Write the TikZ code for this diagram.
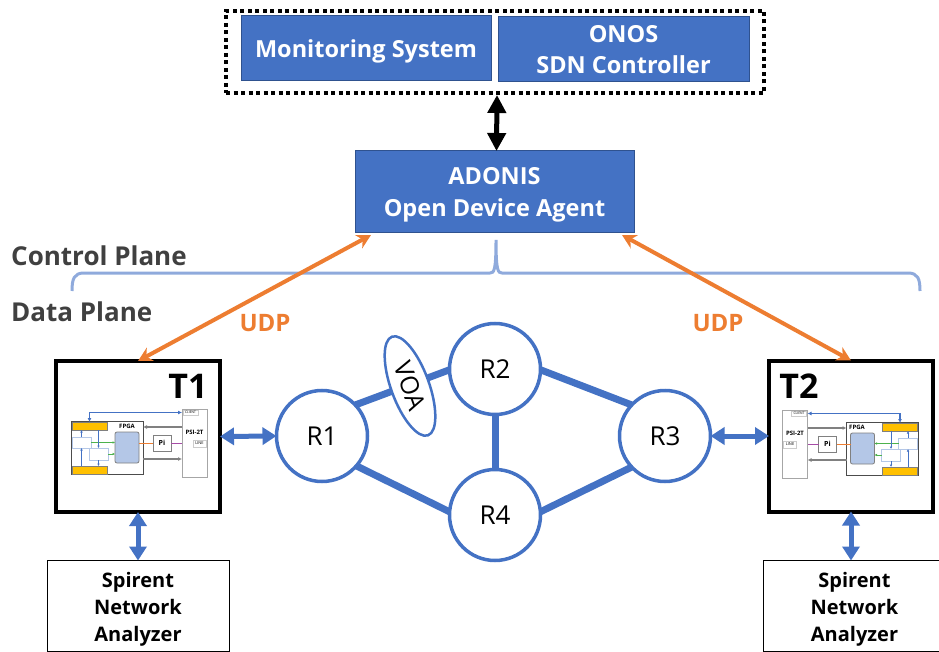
\documentclass[tikz,border=0pt]{standalone}
\usepackage{fontspec}
\usepackage{tikz}
\usetikzlibrary{arrows.meta,shapes.geometric}
\setmainfont{Open Sans}
\definecolor{boxblue}{HTML}{4472C4}
\definecolor{boxedge}{HTML}{2F528F}
\definecolor{braceblue}{HTML}{8FAADC}
\definecolor{udporange}{HTML}{ED7D31}
\definecolor{coreblue}{HTML}{B4C7E7}
\definecolor{portyellow}{HTML}{FFC000}
\definecolor{planegray}{HTML}{404040}
\tikzset{
    fs/.style = {font = \fontsize{#1}{#1}\selectfont\setlength{\baselineskip}{1.36em}},
    bluebox/.style = {draw = boxedge, fill = boxblue, text = white, align = center, inner sep = 0, outer sep = 0, line width = 1pt, text depth = 0pt, fs = 23.5},
    dottedbox/.style = {draw, line width = 4pt, dash pattern = on 4pt off 3.5pt, inner sep = 0, outer sep = 0},
    device/.style = {draw, line width = 4pt, fill = white, inner sep = 0, outer sep = 0, minimum width = 164pt, minimum height = 151pt},
    analyzer/.style = {draw, line width = 1pt, align = center, inner sep = 0, outer sep = 0, minimum height = 91pt, text depth = 0pt, fs = 20},
    router/.style = {circle, draw = boxblue, line width = 3.5pt, fill = white, inner sep = 0, outer sep = 0, minimum size = 91pt, fs = 26},
    link/.style = {draw = boxblue, line width = 7pt},
    bothways/.style = {draw = boxblue, line width = 5pt, {Triangle[length = 14pt, width = 17pt]}-{Triangle[length = 14pt, width = 17pt]}},
    udp/.style = {draw = udporange, line width = 4pt, {Stealth[length = 14pt, width = 15pt]}-{Stealth[length = 14pt, width = 15pt]}},
    plane/.style = {text = planegray, anchor = west, inner sep = 0, fs = 26},
    part/.style = {draw = gray, line width = .8pt, fill = white, inner sep = 0, outer sep = 0, fs = 6},
    tiny/.style = {-{Latex[length = 2.5pt, width = 2.5pt]}, line width = .8pt},
}
\newcommand{\deviceparts}[7]{
    \begin{scope}[xshift = #2, yshift = #3, xscale = #4]
        \draw (107,447.5) node[part, draw = black!70, minimum width = 72pt, minimum height = 53pt] (#1fpga) {};
        \draw (#7,426.5) node[part, draw = none, fill = none] (#1fpgalabel) {\textbf{FPGA}};
        \draw (89.5,426) node[part, fill = portyellow, minimum width = 35pt, minimum height = 8pt] (#1yt) {};
        \draw (89.5,470) node[part, fill = portyellow, minimum width = 35pt, minimum height = 8pt] (#1yb) {};
        \draw (127,447.5) node[part, fill = coreblue, rounded corners = 2pt, minimum width = 24pt, minimum height = 31pt] (#1core) {};
        \draw (81.5,442.5) node[part, draw = coreblue, minimum width = 19pt, minimum height = 11pt] (#1sa) {};
        \draw (98.5,454) node[part, draw = coreblue, minimum width = 19pt, minimum height = 12pt] (#1sb) {};
        \draw (162,443) node[part, fs = 7, minimum width = 18pt, minimum height = 16pt] (#1pi) {\textbf{Pi}};
        \draw (194.5,443) node[part, draw = gray!70, minimum width = 25pt, minimum height = 68pt] (#1psi) {};
        \draw (194.5,432) node[part, draw = none, fill = none] (#1psilabel) {\textbf{PSI-2T}};
        \draw (190.5,412.5) node[part, draw = gray!40, fs = 3.3, minimum width = 15pt, minimum height = 5pt] (#1client) {CLIENT};
        \draw (199.5,443.5) node[part, draw = gray!40, fs = 4, minimum width = 13pt, minimum height = 7pt] (#1line) {LINE};
        \coordinate (#1upper) at (160,427);
        \coordinate (#1lower) at (160,459);
        \draw[draw = boxblue, line width = 1.3pt, {Latex[length = 4pt, width = 4pt]}-{Latex[length = 4pt, width = 4pt]}] (#1yt.north) |- (#1psi.#6 |- #1client);
        \draw[draw = gray, line width = 1.3pt, -{Latex[length = 4pt, width = 4pt]}] (#1psi.#6 |- #1upper) -- (#1fpga.#5 |- #1upper);
        \draw[draw = gray, line width = 1.3pt, -{Latex[length = 4pt, width = 4pt]}] (#1fpga.#5 |- #1lower) -- (#1psi.#6 |- #1lower);
        \draw[draw = udporange, line width = .8pt] (#1core.#5 |- #1pi.#6) -- (#1pi.#6);
        \draw[draw = violet!70, line width = .8pt] (#1pi.#5) -- (#1psi.#6 |- #1pi.#5);
        \draw[tiny, draw = green!40!gray] (#1sa.#5) -- (#1core.#6 |- #1sa.#5);
        \draw[tiny, draw = green!40!gray] (#1sb.#5) -- (#1core.#6 |- #1sb.#5);
        \draw[tiny, draw = boxblue] (#1sa.north) -- (#1sa.north |- #1yt.south);
        \draw[tiny, draw = boxblue] (#1yb.north -| #1sa.south) -- (#1sa.south);
        \draw[tiny, draw = boxblue] (#1sb.north |- #1yt.south) -- (#1sb.north);
        \draw[tiny, draw = boxblue] (#1sb.south) -- (#1sb.south |- #1yb.north);
    \end{scope}
}

\begin{document}
\begin{tikzpicture}[x = 1pt, y = -1pt]
        \useasboundingbox (0,0) rectangle (939,652);
        \draw (495,52) node[dottedbox, minimum width = 538pt, minimum height = 82pt] (outer) {};
        \draw (366,48.5) node[bluebox, minimum width = 250pt, minimum height = 65pt] (monitor) {\textbf{Monitoring System}};
        \draw (623.5,49.5) node[bluebox, minimum width = 251pt, minimum height = 65pt] (onos) {\textbf{ONOS}\\\textbf{SDN Controller}};
        \draw (494.5,192) node[bluebox, minimum width = 279pt, minimum height = 82pt] (adonis) {\textbf{ADONIS}\\\textbf{Open Device Agent}};
        \draw[line width = 5pt, {Triangle[length = 18pt, width = 18pt]}-{Triangle[length = 18pt, width = 18pt]}] ([xshift = 2pt, yshift = -2pt]outer.south) -- ([xshift = 2pt]adonis.north);
        \draw[draw = braceblue, line width = 3pt] (72,291) .. controls (72,279) and (74,273) .. (84,273) -- (490,273) .. controls (494,273) and (496,271) .. (496,240) .. controls (496,271) and (498,273) .. (502,273) -- (908,273) .. controls (918,273) and (920,279) .. (920,291);
        \draw (11,256) node[plane] (control) {\textbf{Control Plane}};
        \draw (11,312) node[plane] (data) {\textbf{Data Plane}};
        \draw (138,436.5) node[device] (t1) {};
        \draw (851,436) node[device] (t2) {};
        \draw (188,386) node[fs = 34] (t1label) {\textbf{T1}};
        \draw (799,386) node[fs = 34] (t2label) {\textbf{T2}};
        \deviceparts{a}{0pt}{0pt}{1}{east}{west}{127}
        \deviceparts{b}{989.5pt}{-1pt}{-1}{west}{east}{132.5}
        \draw[udp] ([xshift = 16pt, yshift = -2pt]adonis.south west) -- (t1.north);
        \draw[udp] ([xshift = -12pt, yshift = -2pt]adonis.south east) -- (t2.north);
        \draw (265,323) node[text = udporange, fs = 24] (udpleft) {\textbf{UDP}};
        \draw (718,323) node[text = udporange, fs = 24] (udpright) {\textbf{UDP}};
        \draw (322,436) node[router] (r1) {R1};
        \draw (495,369) node[router] (r2) {R2};
        \draw (665,436) node[router] (r3) {R3};
        \draw (495,515) node[router] (r4) {R4};
        \draw[link] (r1.43) -- (r2.181);
        \draw[link] (r2.359) -- (r3.137);
        \draw[link] (r1.-41) -- (r4.176);
        \draw[link] (r4.4) -- (r3.223);
        \draw[link] (r2) -- (r4);
        \draw (410,386) node[ellipse, draw = boxblue, line width = 2.5pt, fill = white, inner sep = 0, outer sep = 0, minimum width = 105pt, minimum height = 38pt, rotate = -70, fs = 25] (voa) {VOA};
        \draw (138,607) node[analyzer, draw = none, minimum width = 180pt] (spatext) {\textbf{Spirent}\\\textbf{Network}\\\textbf{Analyzer}};
        \draw (854.5,607) node[analyzer, draw = none, minimum width = 180pt] (spbtext) {\textbf{Spirent}\\\textbf{Network}\\\textbf{Analyzer}};
        \draw (138,606) node[analyzer, minimum width = 182pt] (spa) {};
        \draw (854.5,606) node[analyzer, minimum width = 183pt] (spb) {};
        \draw[bothways] (t1.east) -- (r1.west);
        \draw[bothways] (r3.east) -- (t2.west);
        \draw[bothways] (t1.south) -- (spa.north -| t1.south);
        \draw[bothways] (t2.south) -- (spb.north -| t2.south);
    \end{tikzpicture}
\end{document}
